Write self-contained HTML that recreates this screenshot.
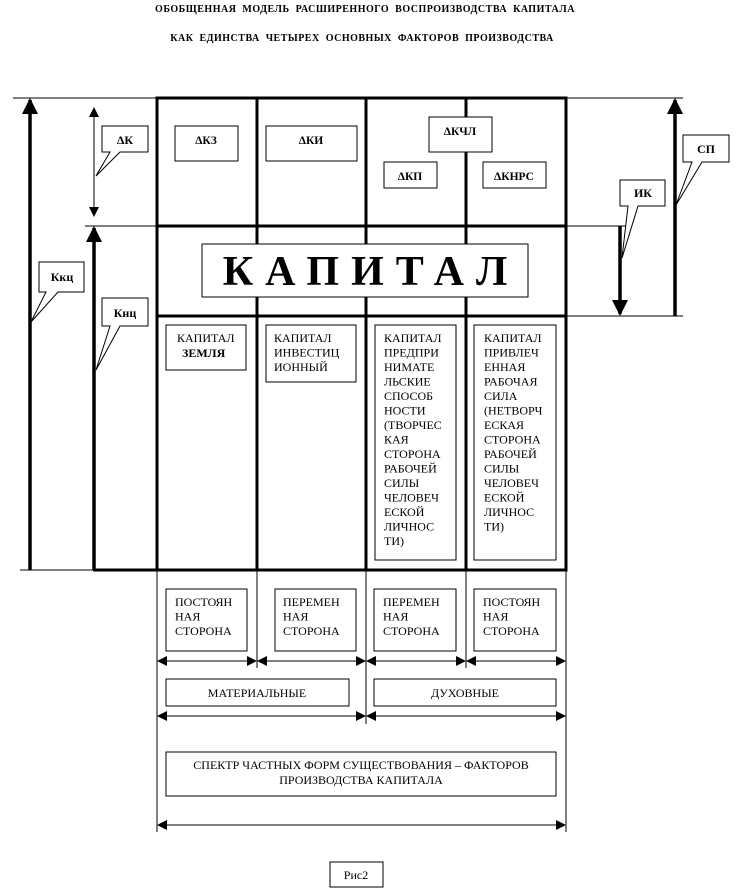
<!DOCTYPE html>
<html><head><meta charset="utf-8"><style>
html,body{margin:0;padding:0;background:#fff;}
svg{display:block;}
text{font-family:"Liberation Serif",serif;fill:#000;}
.b{font-weight:bold;}
</style></head><body>
<svg width="740" height="888" viewBox="0 0 740 888" xmlns="http://www.w3.org/2000/svg">
<defs>
<marker id="ah" markerWidth="10" markerHeight="10" refX="9" refY="5" orient="auto" markerUnits="userSpaceOnUse"><path d="M0,0 L10,5 L0,10 z" fill="#000"/></marker>
<marker id="ahs" markerWidth="10" markerHeight="10" refX="9" refY="5" orient="auto-start-reverse" markerUnits="userSpaceOnUse"><path d="M0,0 L10,5 L0,10 z" fill="#000"/></marker>
<marker id="big" markerWidth="16" markerHeight="18" refX="14" refY="8" orient="auto" markerUnits="userSpaceOnUse"><path d="M0,0 L16,8 L0,16 z" fill="#000"/></marker>
</defs>
<text x="365" y="12" text-anchor="middle" class="b" font-size="10" letter-spacing="0.5" word-spacing="3">ОБОБЩЕННАЯ МОДЕЛЬ РАСШИРЕННОГО ВОСПРОИЗВОДСТВА КАПИТАЛА</text>
<text x="362" y="41" text-anchor="middle" class="b" font-size="10" letter-spacing="0.5" word-spacing="3">КАК ЕДИНСТВА ЧЕТЫРЕХ ОСНОВНЫХ ФАКТОРОВ ПРОИЗВОДСТВА</text>

<g stroke="#000" fill="none">
<line x1="13" y1="98" x2="683" y2="98" stroke-width="1"/>
<line x1="85" y1="226" x2="157" y2="226" stroke-width="1"/>
<line x1="566" y1="226" x2="627" y2="226" stroke-width="1"/>
<line x1="566" y1="316" x2="683" y2="316" stroke-width="1"/>
<line x1="20" y1="570" x2="93" y2="570" stroke-width="1"/>
<rect x="157" y="98" width="409" height="472" stroke-width="3"/>
<line x1="93" y1="570" x2="157" y2="570" stroke-width="3"/>
<line x1="257" y1="98" x2="257" y2="570" stroke-width="3"/>
<line x1="366" y1="98" x2="366" y2="570" stroke-width="3"/>
<line x1="466" y1="98" x2="466" y2="570" stroke-width="3"/>
<line x1="157" y1="226" x2="566" y2="226" stroke-width="3"/>
<line x1="157" y1="316" x2="566" y2="316" stroke-width="3"/>
<line x1="30" y1="570" x2="30" y2="100" stroke-width="3.5" marker-end="url(#big)"/>
<line x1="94" y1="570" x2="94" y2="228" stroke-width="3.5" marker-end="url(#big)"/>
<line x1="94" y1="108" x2="94" y2="216" stroke-width="1" marker-start="url(#ahs)" marker-end="url(#ah)"/>
<line x1="620" y1="226" x2="620" y2="314" stroke-width="3.5" marker-end="url(#big)"/>
<line x1="675" y1="316" x2="675" y2="100" stroke-width="3.5" marker-end="url(#big)"/>
<line x1="157" y1="570" x2="157" y2="832" stroke-width="1"/>
<line x1="566" y1="570" x2="566" y2="832" stroke-width="1"/>
<line x1="257" y1="570" x2="257" y2="668" stroke-width="1"/>
<line x1="466" y1="570" x2="466" y2="668" stroke-width="1"/>
<line x1="366" y1="570" x2="366" y2="724" stroke-width="1"/>
<line x1="158" y1="661" x2="256" y2="661" stroke-width="1" marker-start="url(#ahs)" marker-end="url(#ah)"/>
<line x1="258" y1="661" x2="365" y2="661" stroke-width="1" marker-start="url(#ahs)" marker-end="url(#ah)"/>
<line x1="367" y1="661" x2="465" y2="661" stroke-width="1" marker-start="url(#ahs)" marker-end="url(#ah)"/>
<line x1="467" y1="661" x2="565" y2="661" stroke-width="1" marker-start="url(#ahs)" marker-end="url(#ah)"/>
<line x1="158" y1="716" x2="365" y2="716" stroke-width="1" marker-start="url(#ahs)" marker-end="url(#ah)"/>
<line x1="367" y1="716" x2="565" y2="716" stroke-width="1" marker-start="url(#ahs)" marker-end="url(#ah)"/>
<line x1="158" y1="825" x2="565" y2="825" stroke-width="1" marker-start="url(#ahs)" marker-end="url(#ah)"/>
</g>

<g stroke="#000" stroke-width="1" fill="#fff">
<polygon points="102,126 148,126 148,152 120,152 96,176 110,152 102,152"/>
<polygon points="39,262 84,262 84,292 58,292 31,322 46,292 39,292"/>
<polygon points="102,298 148,298 148,326 120,326 96,370 110,326 102,326"/>
<polygon points="620,180 665,180 665,206 638,206 622,258 628,206 620,206"/>
<polygon points="683,135 729,135 729,162 702,162 676,205 692,162 683,162"/>
</g>
<g class="b" font-size="12" text-anchor="middle">
<text x="125" y="144">ΔК</text>
<text x="62" y="281">Ккц</text>
<text x="125" y="317">Кнц</text>
<text x="643" y="197">ИК</text>
<text x="706" y="153">СП</text>
</g>

<g stroke="#000" stroke-width="1" fill="#fff">
<rect x="175" y="126" width="63" height="35"/>
<rect x="266" y="126" width="91" height="35"/>
<rect x="429" y="117" width="63" height="35"/>
<rect x="384" y="162" width="53" height="26"/>
<rect x="483" y="162" width="63" height="26"/>
<rect x="202" y="244" width="326" height="53"/>
<rect x="166" y="325" width="80" height="45"/>
<rect x="266" y="325" width="90" height="57"/>
<rect x="375" y="325" width="81" height="235"/>
<rect x="474" y="325" width="82" height="235"/>
<rect x="166" y="589" width="81" height="62"/>
<rect x="275" y="589" width="81" height="62"/>
<rect x="374" y="589" width="82" height="62"/>
<rect x="474" y="589" width="82" height="62"/>
<rect x="166" y="679" width="183" height="27"/>
<rect x="374" y="679" width="182" height="27"/>
<rect x="166" y="752" width="390" height="44"/>
<rect x="330" y="862" width="53" height="25"/>
</g>
<g class="b" font-size="11.5" text-anchor="middle">
<text x="206" y="144">ΔКЗ</text>
<text x="311" y="144">ΔКИ</text>
<text x="460" y="135">ΔКЧЛ</text>
<text x="410" y="180">ΔКП</text>
<text x="514" y="180">ΔКНРС</text>
</g>
<text x="371" y="285" text-anchor="middle" class="b" font-size="42" letter-spacing="12">КАПИТАЛ</text>

<g font-size="12">
<text x="177" y="342">КАПИТАЛ</text>
<text x="182" y="357" class="b">ЗЕМЛЯ</text>
<text x="274" y="342">КАПИТАЛ</text><text x="274" y="356.5">ИНВЕСТИЦ</text><text x="274" y="371">ИОННЫЙ</text>
</g>
<g font-size="12">
<text x="384" y="342">КАПИТАЛ</text><text x="384" y="356.5">ПРЕДПРИ</text><text x="384" y="371">НИМАТЕ</text><text x="384" y="385.5">ЛЬСКИЕ</text><text x="384" y="400">СПОСОБ</text><text x="384" y="414.5">НОСТИ</text><text x="384" y="429">(ТВОРЧЕС</text><text x="384" y="443.5">КАЯ</text><text x="384" y="458">СТОРОНА</text><text x="384" y="472.5">РАБОЧЕЙ</text><text x="384" y="487">СИЛЫ</text><text x="384" y="501.5">ЧЕЛОВЕЧ</text><text x="384" y="516">ЕСКОЙ</text><text x="384" y="530.5">ЛИЧНОС</text><text x="384" y="545">ТИ)</text>
<text x="484" y="342">КАПИТАЛ</text><text x="484" y="356.5">ПРИВЛЕЧ</text><text x="484" y="371">ЕННАЯ</text><text x="484" y="385.5">РАБОЧАЯ</text><text x="484" y="400">СИЛА</text><text x="484" y="414.5">(НЕТВОРЧ</text><text x="484" y="429">ЕСКАЯ</text><text x="484" y="443.5">СТОРОНА</text><text x="484" y="458">РАБОЧЕЙ</text><text x="484" y="472.5">СИЛЫ</text><text x="484" y="487">ЧЕЛОВЕЧ</text><text x="484" y="501.5">ЕСКОЙ</text><text x="484" y="516">ЛИЧНОС</text><text x="484" y="530.5">ТИ)</text>
</g>
<g font-size="12">
<text x="175" y="606">ПОСТОЯН</text><text x="175" y="620.5">НАЯ</text><text x="175" y="635">СТОРОНА</text>
<text x="283" y="606">ПЕРЕМЕН</text><text x="283" y="620.5">НАЯ</text><text x="283" y="635">СТОРОНА</text>
<text x="383" y="606">ПЕРЕМЕН</text><text x="383" y="620.5">НАЯ</text><text x="383" y="635">СТОРОНА</text>
<text x="483" y="606">ПОСТОЯН</text><text x="483" y="620.5">НАЯ</text><text x="483" y="635">СТОРОНА</text>
</g>
<g font-size="12" text-anchor="middle">
<text x="257" y="697">МАТЕРИАЛЬНЫЕ</text>
<text x="465" y="697">ДУХОВНЫЕ</text>
<text x="361" y="769">СПЕКТР ЧАСТНЫХ ФОРМ СУЩЕСТВОВАНИЯ – ФАКТОРОВ</text>
<text x="361" y="784">ПРОИЗВОДСТВА КАПИТАЛА</text>
<text x="356" y="879">Рис2</text>
</g>
</svg>
</body></html>
